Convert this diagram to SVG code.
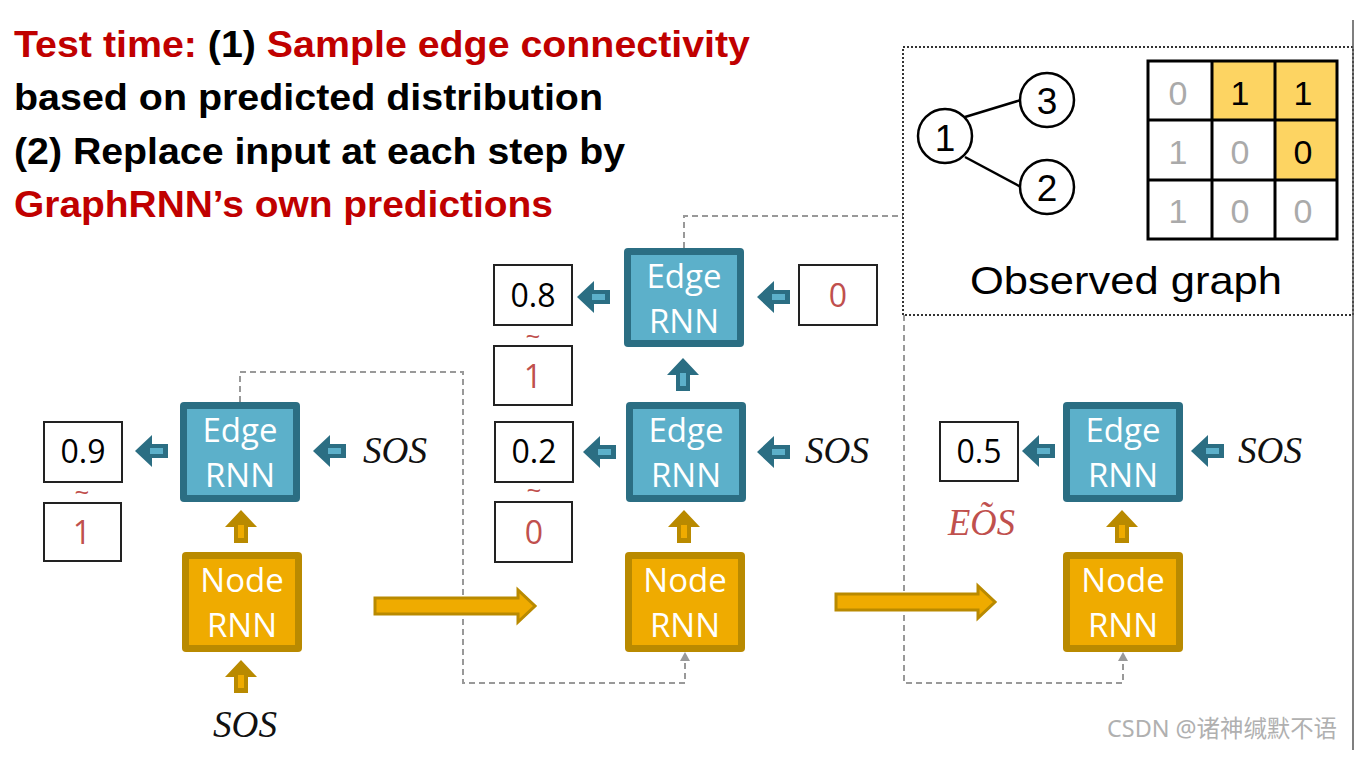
<svg xmlns="http://www.w3.org/2000/svg" xmlns:xlink="http://www.w3.org/1999/xlink" width="1371" height="775" viewBox="0 0 1371 775">
<style>
.title{font-family:"Liberation Sans",Arial,sans-serif;font-weight:bold;font-size:36px}
.red{fill:#c00000}
.blk{fill:#000}
.boxlbl{font-family:"Open Sans","Noto Sans",sans-serif;font-size:33px;fill:#fff;text-anchor:middle}
.num{font-family:"Open Sans","Noto Sans",sans-serif;font-size:32px;text-anchor:middle}
.numr{fill:#c0504d}
.tld{font-family:"Open Sans","Noto Sans",sans-serif;font-size:26px;text-anchor:middle;fill:#c0504d}
.sos{font-family:"Liberation Serif","Times New Roman",serif;font-style:italic;font-size:37px;fill:#111}
.vbox{fill:#fff;stroke:#222;stroke-width:2}
.edgeO{fill:#2b6e83}
.edgeI{fill:#5cb0ca}
.nodeO{fill:#b98a00}
.nodeI{fill:#efab00}
.dash{fill:none;stroke:#999;stroke-width:2;stroke-dasharray:6 4}
.ghead{fill:#999}
.big{fill:#efab00;stroke:#b98a00;stroke-width:3;stroke-linejoin:miter}
.gdig{font-family:"Liberation Sans",Arial,sans-serif;font-size:34px;text-anchor:middle}
.circ{fill:#fff;stroke:#000;stroke-width:2.5}
.cnum{font-family:"Liberation Sans",Arial,sans-serif;font-size:37px;text-anchor:middle;fill:#000}
</style>
<defs>
<g id="larrT">
<polygon class="edgeO" points="0,0 17,-16 17,-7 33,-7 33,7 17,7 17,16"/>
<rect class="edgeI" x="15" y="-3" width="13" height="6"/>
</g>
<g id="uarrT">
<polygon class="edgeO" points="0,0 16,17 7,17 7,33 -7,33 -7,17 -16,17"/>
<rect class="edgeI" x="-3" y="15" width="6" height="13"/>
</g>
<g id="uarrG">
<polygon class="nodeO" points="0,0 16,17 7,17 7,33 -7,33 -7,17 -16,17"/>
<rect class="nodeI" x="-3" y="15" width="6" height="13"/>
</g>
</defs>
<rect width="1371" height="775" fill="#fff"/>

<g id="title">
<text class="title" x="14" y="57" textLength="736" lengthAdjust="spacingAndGlyphs"><tspan class="red">Test time: </tspan><tspan class="blk">(1) </tspan><tspan class="red">Sample edge connectivity</tspan></text>
<text class="title blk" x="14" y="110" textLength="589" lengthAdjust="spacingAndGlyphs">based on predicted distribution</text>
<text class="title blk" x="14" y="164" textLength="611" lengthAdjust="spacingAndGlyphs">(2) Replace input at each step by</text>
<text class="title red" x="14" y="217" textLength="539" lengthAdjust="spacingAndGlyphs">GraphRNN’s own predictions</text>
</g>

<g id="connectors">
<path class="dash" d="M240,402 V372 H463 V683 H685 V660"/>
<polygon class="ghead" points="685,652 680,661 690,661"/>
<path class="dash" d="M684,248 V216 H903"/>
<path class="dash" d="M904,315 V683 H1123 V660"/>
<polygon class="ghead" points="1123,652 1118,661 1128,661"/>
<polygon class="big" points="375,598 518,598 518,590 535,606 518,622 518,614 375,614"/>
<polygon class="big" points="836,594 978,594 978,586 995,602 978,618 978,610 836,610"/>
<use xlink:href="#larrT" x="135" y="451"/>
<use xlink:href="#larrT" x="313" y="451"/>
<use xlink:href="#larrT" x="577" y="297"/>
<use xlink:href="#larrT" x="757" y="297"/>
<use xlink:href="#larrT" x="583" y="452"/>
<use xlink:href="#larrT" x="757" y="452"/>
<use xlink:href="#larrT" x="1022" y="451"/>
<use xlink:href="#larrT" x="1191" y="451"/>
<use xlink:href="#uarrT" x="683" y="358"/>
<use xlink:href="#uarrG" x="241" y="510"/>
<use xlink:href="#uarrG" x="241" y="660"/>
<use xlink:href="#uarrG" x="684" y="510"/>
<use xlink:href="#uarrG" x="1122" y="510"/>
</g>

<g id="edge1">
<rect class="edgeO" x="180" y="402" width="120" height="100" rx="4"/>
<rect class="edgeI" x="187" y="409" width="106" height="86"/>
<text class="boxlbl" x="240" y="442">Edge</text>
<text class="boxlbl" x="240" y="487">RNN</text>
</g>
<g id="node1">
<rect class="nodeO" x="182" y="552" width="120" height="100" rx="4"/>
<rect class="nodeI" x="189" y="559" width="106" height="86"/>
<text class="boxlbl" x="242" y="592">Node</text>
<text class="boxlbl" x="242" y="637">RNN</text>
</g>
<g id="edge2top">
<rect class="edgeO" x="624" y="248" width="120" height="99" rx="4"/>
<rect class="edgeI" x="631" y="255" width="106" height="85"/>
<text class="boxlbl" x="684" y="288">Edge</text>
<text class="boxlbl" x="684" y="333">RNN</text>
</g>
<g id="edge2">
<rect class="edgeO" x="626" y="402" width="120" height="100" rx="4"/>
<rect class="edgeI" x="633" y="409" width="106" height="86"/>
<text class="boxlbl" x="686" y="442">Edge</text>
<text class="boxlbl" x="686" y="487">RNN</text>
</g>
<g id="node2">
<rect class="nodeO" x="625" y="552" width="120" height="100" rx="4"/>
<rect class="nodeI" x="632" y="559" width="106" height="86"/>
<text class="boxlbl" x="685" y="592">Node</text>
<text class="boxlbl" x="685" y="637">RNN</text>
</g>
<g id="edge3">
<rect class="edgeO" x="1063" y="402" width="120" height="100" rx="4"/>
<rect class="edgeI" x="1070" y="409" width="106" height="86"/>
<text class="boxlbl" x="1123" y="442">Edge</text>
<text class="boxlbl" x="1123" y="487">RNN</text>
</g>
<g id="node3">
<rect class="nodeO" x="1063" y="552" width="120" height="100" rx="4"/>
<rect class="nodeI" x="1070" y="559" width="106" height="86"/>
<text class="boxlbl" x="1123" y="592">Node</text>
<text class="boxlbl" x="1123" y="637">RNN</text>
</g>

<g id="values">
<rect class="vbox" x="44" y="422" width="78" height="60"/>
<text class="num" x="83" y="463">0.9</text>
<text class="tld" x="82" y="501">~</text>
<rect class="vbox" x="44" y="503" width="77" height="58"/>
<text class="num numr" x="82" y="544">1</text>

<rect class="vbox" x="494" y="265" width="78" height="60"/>
<text class="num" x="533" y="307">0.8</text>
<text class="tld" x="533" y="345">~</text>
<rect class="vbox" x="494" y="346" width="78" height="59"/>
<text class="num numr" x="533" y="388">1</text>

<rect class="vbox" x="495" y="422" width="78" height="60"/>
<text class="num" x="534" y="463">0.2</text>
<text class="tld" x="534" y="499">~</text>
<rect class="vbox" x="495" y="502" width="77" height="60"/>
<text class="num numr" x="534" y="544">0</text>

<rect class="vbox" x="799" y="265" width="78" height="60"/>
<text class="num numr" x="838" y="307">0</text>

<rect class="vbox" x="940" y="422" width="78" height="59"/>
<text class="num" x="979" y="463">0.5</text>
<text class="sos" x="948" y="535" style="fill:#c0504d" textLength="67" lengthAdjust="spacingAndGlyphs">EÕS</text>
</g>

<g id="sos-labels">
<text class="sos" x="213" y="737" textLength="64" lengthAdjust="spacingAndGlyphs">SOS</text>
<text class="sos" x="363" y="463" textLength="64" lengthAdjust="spacingAndGlyphs">SOS</text>
<text class="sos" x="805" y="463" textLength="64" lengthAdjust="spacingAndGlyphs">SOS</text>
<text class="sos" x="1238" y="463" textLength="64" lengthAdjust="spacingAndGlyphs">SOS</text>
</g>

<g id="observed-graph">
<rect x="903" y="47" width="450" height="268" fill="none" stroke="#333" stroke-width="2" stroke-dasharray="2 2"/>
<line x1="965" y1="117" x2="1021" y2="100" stroke="#000" stroke-width="2.5"/>
<line x1="965" y1="157" x2="1021" y2="187" stroke="#000" stroke-width="2.5"/>
<circle class="circ" cx="945" cy="136" r="27"/>
<circle class="circ" cx="1047" cy="100" r="27"/>
<circle class="circ" cx="1047" cy="187" r="27"/>
<text class="cnum" x="945" y="151">1</text>
<text class="cnum" x="1047" y="114">3</text>
<text class="cnum" x="1047" y="201">2</text>
<rect x="1212" y="61" width="125" height="59" fill="#fdd462"/>
<rect x="1275" y="120" width="62" height="60" fill="#fdd462"/>
<g fill="none" stroke="#000" stroke-width="3">
<rect x="1148" y="61" width="189" height="178"/>
<line x1="1212" y1="61" x2="1212" y2="239"/>
<line x1="1275" y1="61" x2="1275" y2="239"/>
<line x1="1148" y1="120" x2="1337" y2="120"/>
<line x1="1148" y1="180" x2="1337" y2="180"/>
</g>
<text class="gdig" x="1178" y="105" fill="#aaa">0</text>
<text class="gdig" x="1240" y="105" fill="#000">1</text>
<text class="gdig" x="1303" y="105" fill="#000">1</text>
<text class="gdig" x="1178" y="164" fill="#aaa">1</text>
<text class="gdig" x="1240" y="164" fill="#aaa">0</text>
<text class="gdig" x="1303" y="164" fill="#000">0</text>
<text class="gdig" x="1178" y="223" fill="#aaa">1</text>
<text class="gdig" x="1240" y="223" fill="#aaa">0</text>
<text class="gdig" x="1303" y="223" fill="#aaa">0</text>
<text x="970" y="294" font-family="'Liberation Sans',Arial,sans-serif" font-size="39" fill="#000" textLength="312" lengthAdjust="spacingAndGlyphs">Observed graph</text>
</g>

<line x1="1353" y1="20" x2="1353" y2="750" stroke="#555" stroke-width="1.5"/>
<text x="1107" y="737" font-family="'Noto Sans','Noto Sans CJK SC',sans-serif" font-size="24" fill="#b0b0b0" textLength="230" lengthAdjust="spacingAndGlyphs">CSDN @诸神缄默不语</text>
</svg>
